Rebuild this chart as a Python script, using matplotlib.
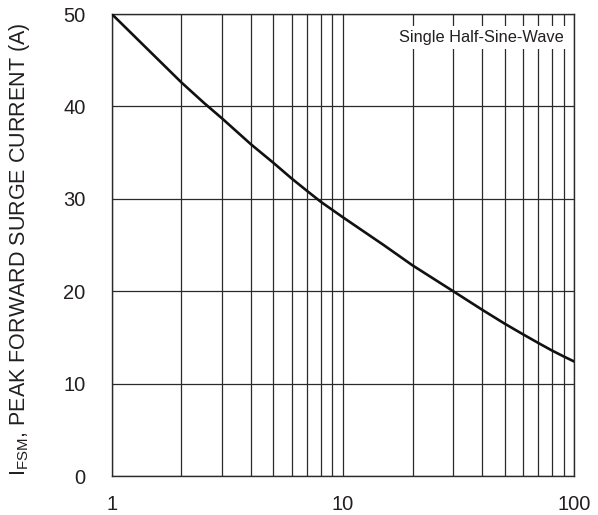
import matplotlib
matplotlib.use("Agg")
import matplotlib.pyplot as plt
from matplotlib.ticker import FixedLocator, NullFormatter

plt.rcParams["font.family"] = ["Liberation Sans", "DejaVu Sans"]
plt.rcParams["mathtext.default"] = "regular"

# ── Dados ───────────────────────────────────────────────────────────────────
ciclos = [1, 2, 2.5, 3, 4, 5, 6, 7, 8, 10, 15, 20, 30, 40, 50, 60, 70, 80, 90, 100]
corrente = [50.0, 42.6, 40.4, 38.7, 35.9, 33.9, 32.2, 30.85, 29.7, 28.0,
            25.0, 22.8, 20.0, 18.0, 16.5, 15.35, 14.4, 13.6, 12.95, 12.4]

x_ticks = [1, 10, 100]
x_labels = ["1", "10", "100"]
y_ticks = [0, 10, 20, 30, 40, 50]
nota = "Single Half-Sine-Wave"
ylabel = "I$_{FSM}$, PEAK FORWARD SURGE CURRENT (A)"

COR_TEXTO = "#231f20"
COR_GRADE = "#2a2a2a"

fig = plt.figure(figsize=(5.98, 5.15), dpi=100)
ax = fig.add_axes([0.187, 0.0757, 0.773, 0.897])

ax.plot(ciclos, corrente, color="#111111", linewidth=1.9, zorder=3)

ax.set_xscale("log")
ax.set_xlim(1, 100)
ax.set_ylim(0, 50)

ax.xaxis.set_major_locator(FixedLocator(x_ticks))
ax.set_xticklabels(x_labels)
minor = [m * d for d in (1, 10) for m in range(2, 10)]
ax.xaxis.set_minor_locator(FixedLocator(minor))
ax.xaxis.set_minor_formatter(NullFormatter())
ax.set_yticks(y_ticks)

ax.grid(True, which="both", axis="x", color=COR_GRADE, linewidth=0.9)
ax.grid(True, which="major", axis="y", color=COR_GRADE, linewidth=0.9)

ax.tick_params(which="both", length=0, labelsize=14.5, colors=COR_TEXTO)
ax.tick_params(axis="x", pad=14)
ax.tick_params(axis="y", pad=19)
for s in ax.spines.values():
    s.set_color(COR_GRADE)
    s.set_linewidth(1.0)

ax.set_ylabel(ylabel, fontsize=15.5, color=COR_TEXTO)
ax.yaxis.set_label_coords(-0.172, 0.49)

ax.text(0.978, 0.950, nota, transform=ax.transAxes, ha="right", va="center",
        fontsize=11.8, color=COR_TEXTO, zorder=5,
        bbox=dict(facecolor="white", edgecolor="none", pad=3.0))

fig.savefig("out.png", dpi=100, facecolor="white")
